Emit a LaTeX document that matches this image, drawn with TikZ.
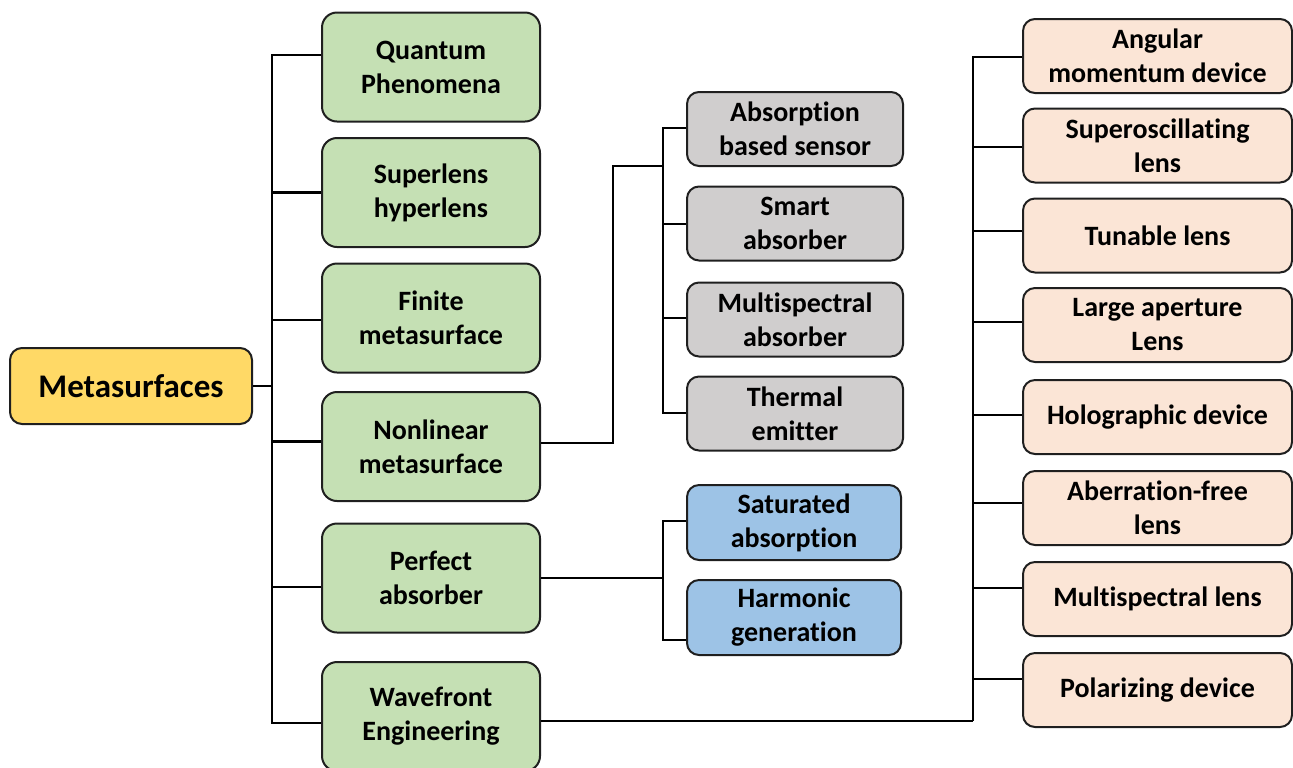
\documentclass[tikz,border=0pt]{standalone}
\usepackage{fontspec}
\setmainfont{Carlito}[Ligatures=NoCommon]
\definecolor{rootyellow}{HTML}{FFD966}
\definecolor{catgreen}{HTML}{C5E0B4}
\definecolor{subgray}{HTML}{D0CECE}
\definecolor{subblue}{HTML}{9DC3E6}
\definecolor{suborange}{HTML}{FBE5D6}
\tikzset{
  box/.style={draw=black!88, line width=1pt, align=center, inner sep=0pt,
    font=\bfseries\fontsize{14}{17}\selectfont},
  rootbox/.style={box, fill=rootyellow, rounded corners=6pt, minimum width=121pt, minimum height=38pt,
    font=\bfseries\fontsize{16.5}{20}\selectfont},
  catbox/.style={box, fill=catgreen, rounded corners=7.5pt, minimum width=109pt, minimum height=54.5pt},
  graybox/.style={box, fill=subgray, rounded corners=6pt, minimum width=108pt, minimum height=37pt},
  bluebox/.style={box, fill=subblue, rounded corners=6pt, minimum width=107pt, minimum height=37.5pt},
  lensbox/.style={box, fill=suborange, rounded corners=6pt, minimum width=134.5pt, minimum height=37pt},
  link/.style={draw=black, line width=1.4pt}
}
\begin{document}
\begin{tikzpicture}[x=0.5pt, y=-0.5pt]
        \useasboundingbox (0,0) rectangle (1293,767);

        % Racine
        \node[rootbox] (root) at (131,386) {Metasurfaces};

        % Categories
        \node[catbox] (quant) at (431,67) {Quantum\\Phenomena};
        \node[catbox] (super) at (431,192.5) {Superlens\\hyperlens};
        \node[catbox] (finite) at (431,318) {Finite\\metasurface};
        \node[catbox] (nonlin) at (431,446.5) {Nonlinear\\metasurface};
        \node[catbox] (perfect) at (431,578) {Perfect\\absorber};
        \node[catbox] (wave) at (431,716.5) {Wavefront\\Engineering};

        % Absorbeurs
        \node[graybox] (sensor) at (795,129) {Absorption\\based sensor};
        \node[graybox] (smart) at (795,223.5) {Smart\\absorber};
        \node[graybox] (multabs) at (795,319.5) {Multispectral\\absorber};
        \node[graybox] (thermal) at (795,413.5) {Thermal\\emitter};

        % Effets non lineaires
        \node[bluebox] (satur) at (794,522.5) {Saturated\\absorption};
        \node[bluebox] (harm) at (794,617.5) {Harmonic\\generation};

        % Dispositifs
        \node[lensbox] (angular) at (1157.5,56) {Angular\\momentum device};
        \node[lensbox] (superosc) at (1157.5,145.5) {Superoscillating\\lens};
        \node[lensbox] (tunable) at (1157.5,235.5) {Tunable lens};
        \node[lensbox] (large) at (1157.5,325) {Large aperture\\Lens};
        \node[lensbox] (holo) at (1157.5,417) {Holographic device};
        \node[lensbox] (aberr) at (1157.5,508) {Aberration-free\\lens};
        \node[lensbox] (multlens) at (1157.5,599) {Multispectral lens};
        \node[lensbox] (polar) at (1157.5,690) {Polarizing device};

        % Troncs
        \coordinate (topA) at (272,55);
        \coordinate (botA) at (272,723);
        \coordinate (topB) at (663,128);
        \coordinate (botB) at (663,413);
        \coordinate (topC) at (663,521);
        \coordinate (botC) at (663,640);
        \coordinate (topD) at (973,57);
        \coordinate (botD) at (973,721);
        \coordinate (bendN) at (613,166);

        % Liens racine -> categories
        \draw[link] (root.east) -- (root.east -| topA);
        \draw[link] (topA) -- (botA);
        \foreach \c/\dy in {quant/-12,super/0,finite/2,nonlin/-5,perfect/9,wave/6.5}
            \draw[link] ([shift={(0,\dy)}]\c.west) -- ++(-50,0);

        % Liens nonlinear -> absorbeurs
        \draw[link] ([shift={(0,-3.5)}]nonlin.east) -| (bendN) -- (bendN -| topB);
        \draw[link] (topB) -- (botB);
        \foreach \c/\dy in {sensor/-1,smart/0.5,multabs/-1.5,thermal/-0.5}
            \draw[link] ([shift={(0,\dy)}]\c.west) -- ++(-24,0);

        % Liens perfect -> effets
        \draw[link] (perfect.east) -- (perfect.east -| topC);
        \draw[link] (topC) -- (botC);
        \foreach \c/\dy in {satur/-1.5,harm/22.5}
            \draw[link] ([shift={(0,\dy)}]\c.west) -- ++(-24,0);

        % Liens wavefront -> dispositifs
        \draw[link] ([shift={(0,4.5)}]wave.east) -- (botD);
        \draw[link] (topD) -- (botD);
        \foreach \c/\dy in {angular/1,superosc/1.5,tunable/-4.5,large/-3,holo/-2,aberr/-5,multlens/-11,polar/-11}
            \draw[link] ([shift={(0,\dy)}]\c.west) -- ++(-50,0);
    \end{tikzpicture}
\end{document}
